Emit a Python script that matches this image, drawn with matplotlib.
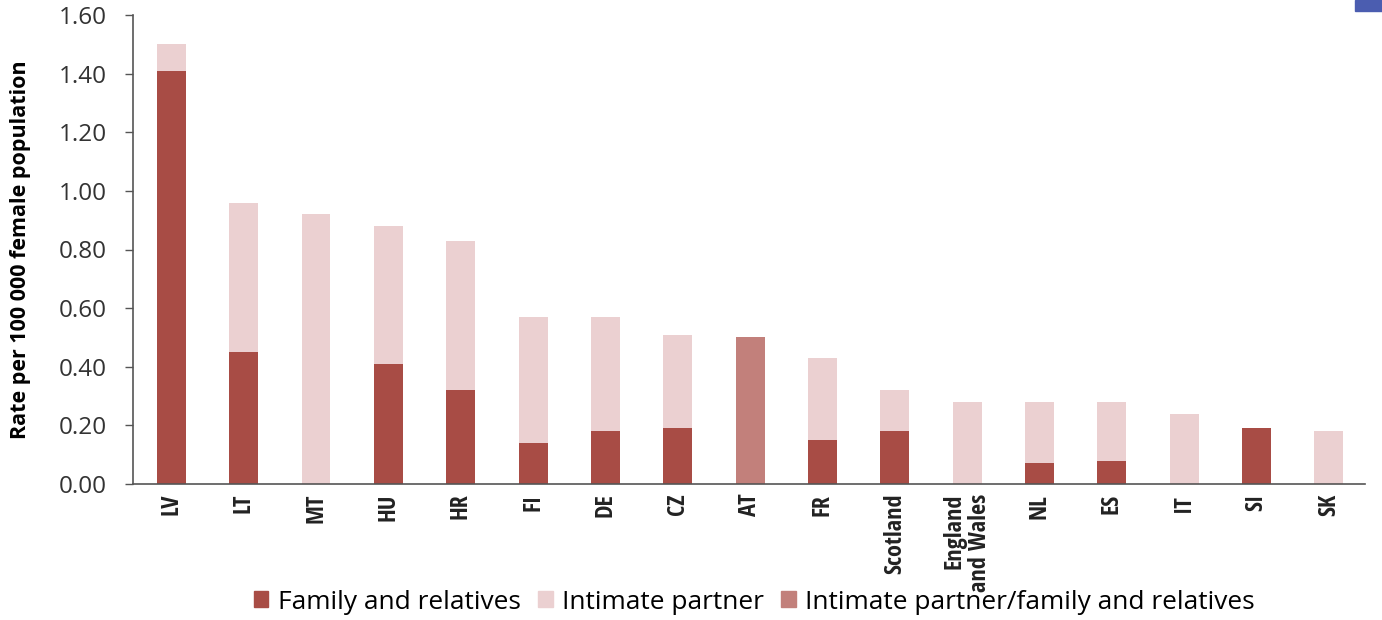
import matplotlib
matplotlib.use('Agg')
import matplotlib.pyplot as plt
from matplotlib.patches import Patch, Rectangle

countries = ['LV', 'LT', 'MT', 'HU', 'HR', 'FI', 'DE', 'CZ', 'AT', 'FR',
             'Scotland', 'England\nand Wales', 'NL', 'ES', 'IT', 'SI', 'SK']
family = [1.41, 0.45, 0.00, 0.41, 0.32, 0.14, 0.18, 0.19, 0.00, 0.15,
          0.18, 0.00, 0.07, 0.08, 0.00, 0.19, 0.00]
partner = [0.09, 0.51, 0.92, 0.47, 0.51, 0.43, 0.39, 0.32, 0.00, 0.28,
           0.14, 0.28, 0.21, 0.20, 0.24, 0.00, 0.18]
combined = [0.00, 0.00, 0.00, 0.00, 0.00, 0.00, 0.00, 0.00, 0.50, 0.00,
            0.00, 0.00, 0.00, 0.00, 0.00, 0.00, 0.00]
yticks = [0.0, 0.2, 0.4, 0.6, 0.8, 1.0, 1.2, 1.4, 1.6]

c_family = '#A84C45'
c_partner = '#EBD0D1'
c_combined = '#C2807B'

plt.rcParams['font.family'] = ['Open Sans', 'DejaVu Sans']
narrow = ['Open Sans Condensed', 'Roboto Condensed', 'Liberation Sans Narrow',
          'Open Sans', 'DejaVu Sans']

fig = plt.figure(figsize=(13.82, 6.2), dpi=100)
ax = fig.add_axes([133 / 1382, 1 - 484 / 620, 1232 / 1382, 469 / 620])

x = range(len(countries))
w = 0.40
ax.bar(x, family, w, color=c_family, zorder=2)
ax.bar(x, partner, w, bottom=family, color=c_partner, zorder=2)
ax.bar(x, combined, w, color=c_combined, zorder=2)

ax.set_xlim(-0.53, 16.5)
ax.set_ylim(0, 1.6)
ax.set_yticks(yticks)
ax.set_yticklabels([f'{v:.2f}' for v in yticks], fontsize=17.5, color='#333333')
ax.tick_params(axis='y', length=6, width=1, color='#555555', pad=13)
ax.set_xticks(list(x))
ax.set_xticklabels(countries, rotation=90, fontsize=17.5, family=narrow,
                   fontweight='light', color='#222222', va='top', ha='center',
                   multialignment='right', linespacing=1.05)
ax.tick_params(axis='x', length=0, pad=7)

for s in ['top', 'right']:
    ax.spines[s].set_visible(False)
for s in ['left', 'bottom']:
    ax.spines[s].set_color('#555555')
    ax.spines[s].set_linewidth(1.2)

ax.set_ylabel('Rate per 100 000 female population', fontsize=15.5,
              fontweight='bold')
ax.yaxis.set_label_coords(-0.083, 0.5)

handles = [Patch(color=c_family, label='Family and relatives'),
           Patch(color=c_partner, label='Intimate partner'),
           Patch(color=c_combined, label='Intimate partner/family and relatives')]
fig.legend(handles=handles, loc='center', bbox_to_anchor=(754 / 1382, 0.029),
           ncol=3, frameon=False, fontsize=18.9, handlelength=0.57,
           handleheight=0.57, handletextpad=0.35, columnspacing=0.65,
           borderpad=0.1)

fig.patches.append(Rectangle((1355 / 1382, 1 - 11 / 620), 27 / 1382, 11 / 620,
                             transform=fig.transFigure, color='#4B5DB0'))

fig.savefig('out.png', dpi=100)
